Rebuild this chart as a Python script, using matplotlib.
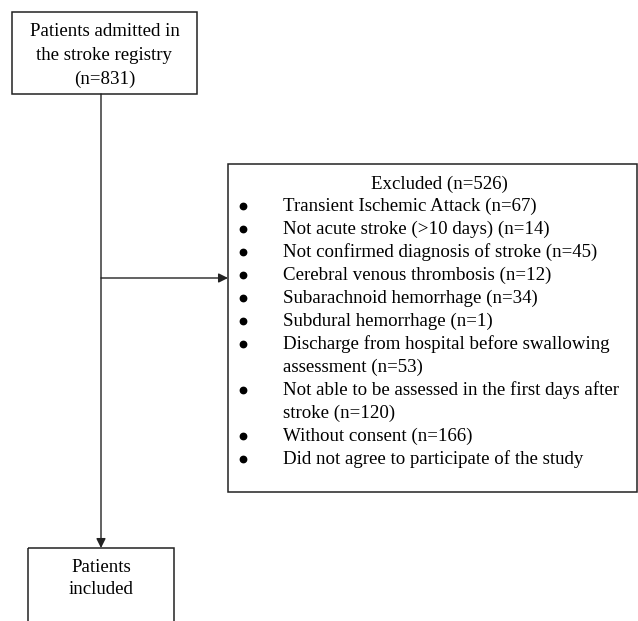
import matplotlib.pyplot as plt
from matplotlib.patches import Rectangle

plt.rcParams['font.family'] = ['Liberation Serif', 'DejaVu Serif']

top_label = ["Patients admitted in", "the stroke registry", "(n=831)"]
excluded_title = "Excluded (n=526)"
excluded_items = [
    ["Transient Ischemic Attack (n=67)"],
    ["Not acute stroke (>10 days) (n=14)"],
    ["Not confirmed diagnosis of stroke (n=45)"],
    ["Cerebral venous thrombosis (n=12)"],
    ["Subarachnoid hemorrhage (n=34)"],
    ["Subdural hemorrhage (n=1)"],
    ["Discharge from hospital before swallowing", "assessment (n=53)"],
    ["Not able to be assessed in the first days after", "stroke (n=120)"],
    ["Without consent (n=166)"],
    ["Did not agree to participate of the study"],
]
bottom_label = ["Patients", "included"]

FS = 13.6
LINE = 23
EDGE = '#222222'

fig = plt.figure(figsize=(6.38, 6.21), dpi=100)
ax = fig.add_axes([0, 0, 1, 1])
ax.set_xlim(0, 638)
ax.set_ylim(621, 0)
ax.axis('off')

def box(x0, y0, x1, y1):
    ax.add_patch(Rectangle((x0, y0), x1 - x0, y1 - y0, fill=False,
                           edgecolor=EDGE, linewidth=1.1))

# top box
box(12, 12, 197, 94)
for i, t in enumerate(top_label):
    ax.text(104.5, 31 + i * 24, t, ha='center', va='center', fontsize=FS)

# excluded box
box(228, 164, 637, 492)
ax.text(439, 184, excluded_title, ha='center', va='center', fontsize=FS)
y = 206
for item in excluded_items:
    ax.plot(243, y, 'o', color='black', markersize=4.6)
    for line in item:
        ax.text(283, y, line, ha='left', va='center', fontsize=FS)
        y += LINE

# bottom box (runs off the bottom edge)
box(28, 548, 174, 640)
for i, t in enumerate(bottom_label):
    ax.text(101, 567 + i * 22, t, ha='center', va='center', fontsize=FS)

# connectors
ax.annotate("", xy=(101, 548), xytext=(101, 94),
            arrowprops=dict(arrowstyle='-|>', color=EDGE, lw=1.0,
                            mutation_scale=14, shrinkA=0, shrinkB=0))
ax.annotate("", xy=(228, 278), xytext=(101, 278),
            arrowprops=dict(arrowstyle='-|>', color=EDGE, lw=1.0,
                            mutation_scale=14, shrinkA=0, shrinkB=0))

fig.savefig("out.png", dpi=100)
